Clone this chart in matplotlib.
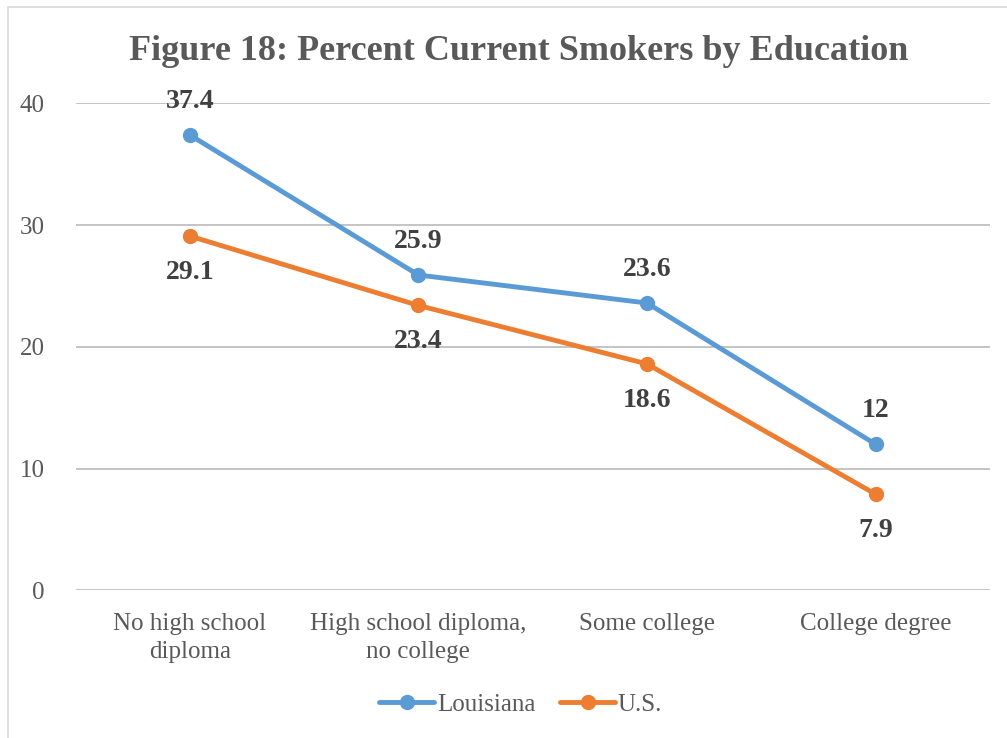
import matplotlib.pyplot as plt
from matplotlib.patches import Rectangle

# Percent current smokers by education level
categories = ["No high school\ndiploma", "High school diploma,\nno college",
              "Some college", "College degree"]
louisiana = [37.4, 25.9, 23.6, 12]
us = [29.1, 23.4, 18.6, 7.9]
louisiana_labels = ["37.4", "25.9", "23.6", "12"]
us_labels = ["29.1", "23.4", "18.6", "7.9"]
yticks = [0, 10, 20, 30, 40]

blue = "#5B9BD5"
orange = "#ED7D31"
text_gray = "#595959"
label_gray = "#404040"

plt.rcParams['font.family'] = ['Liberation Serif', 'DejaVu Serif']

fig = plt.figure(figsize=(10.07, 7.38), dpi=100)
ax = fig.add_axes([0.075, 0.2, 0.908, 0.66])

x = range(len(categories))
ax.plot(x, louisiana, color=blue, lw=3.5, marker="o", markersize=10,
        solid_capstyle="round", label="Louisiana", zorder=3)
ax.plot(x, us, color=orange, lw=3.5, marker="o", markersize=10,
        solid_capstyle="round", label="U.S.", zorder=3)

# value labels: Louisiana above, U.S. below
for i, (v, t) in enumerate(zip(louisiana, louisiana_labels)):
    ax.annotate(t, (i, v), xytext=(0, 15), textcoords="offset points",
                ha="center", va="bottom", fontsize=20, fontweight="bold",
                color=label_gray)
for i, (v, t) in enumerate(zip(us, us_labels)):
    ax.annotate(t, (i, v), xytext=(0, -17), textcoords="offset points",
                ha="center", va="top", fontsize=20, fontweight="bold",
                color=label_gray)

ax.set_xlim(-0.5, len(categories) - 0.5)
ax.set_ylim(0, 40)
ax.set_yticks(yticks)
ax.set_xticks(list(x))
ax.set_xticklabels(categories, fontsize=18, color=text_gray, linespacing=1.35)
ax.tick_params(axis="y", labelsize=18, labelcolor=text_gray, length=0, pad=22)
ax.tick_params(axis="x", length=0, pad=16)
ax.grid(axis="y", color="#BFBFBF", lw=1.3)
ax.set_axisbelow(True)
for s in ax.spines.values():
    s.set_visible(False)

fig.text(0.515, 0.93, "Figure 18: Percent Current Smokers by Education",
         ha="center", va="center", fontsize=26, fontweight="bold",
         color=text_gray)

fig.legend(loc="center", bbox_to_anchor=(0.517, 0.045), ncol=2,
           frameon=False, fontsize=18, labelcolor=text_gray,
           handlelength=2.2, handletextpad=0.1, columnspacing=1.0)

# light chart border
fig.patches.append(Rectangle((0.008, -0.01), 1.2, 1.0, transform=fig.transFigure,
                             fill=False, edgecolor="#D9D9D9", lw=1.2))

fig.savefig("out.png", dpi=100)
